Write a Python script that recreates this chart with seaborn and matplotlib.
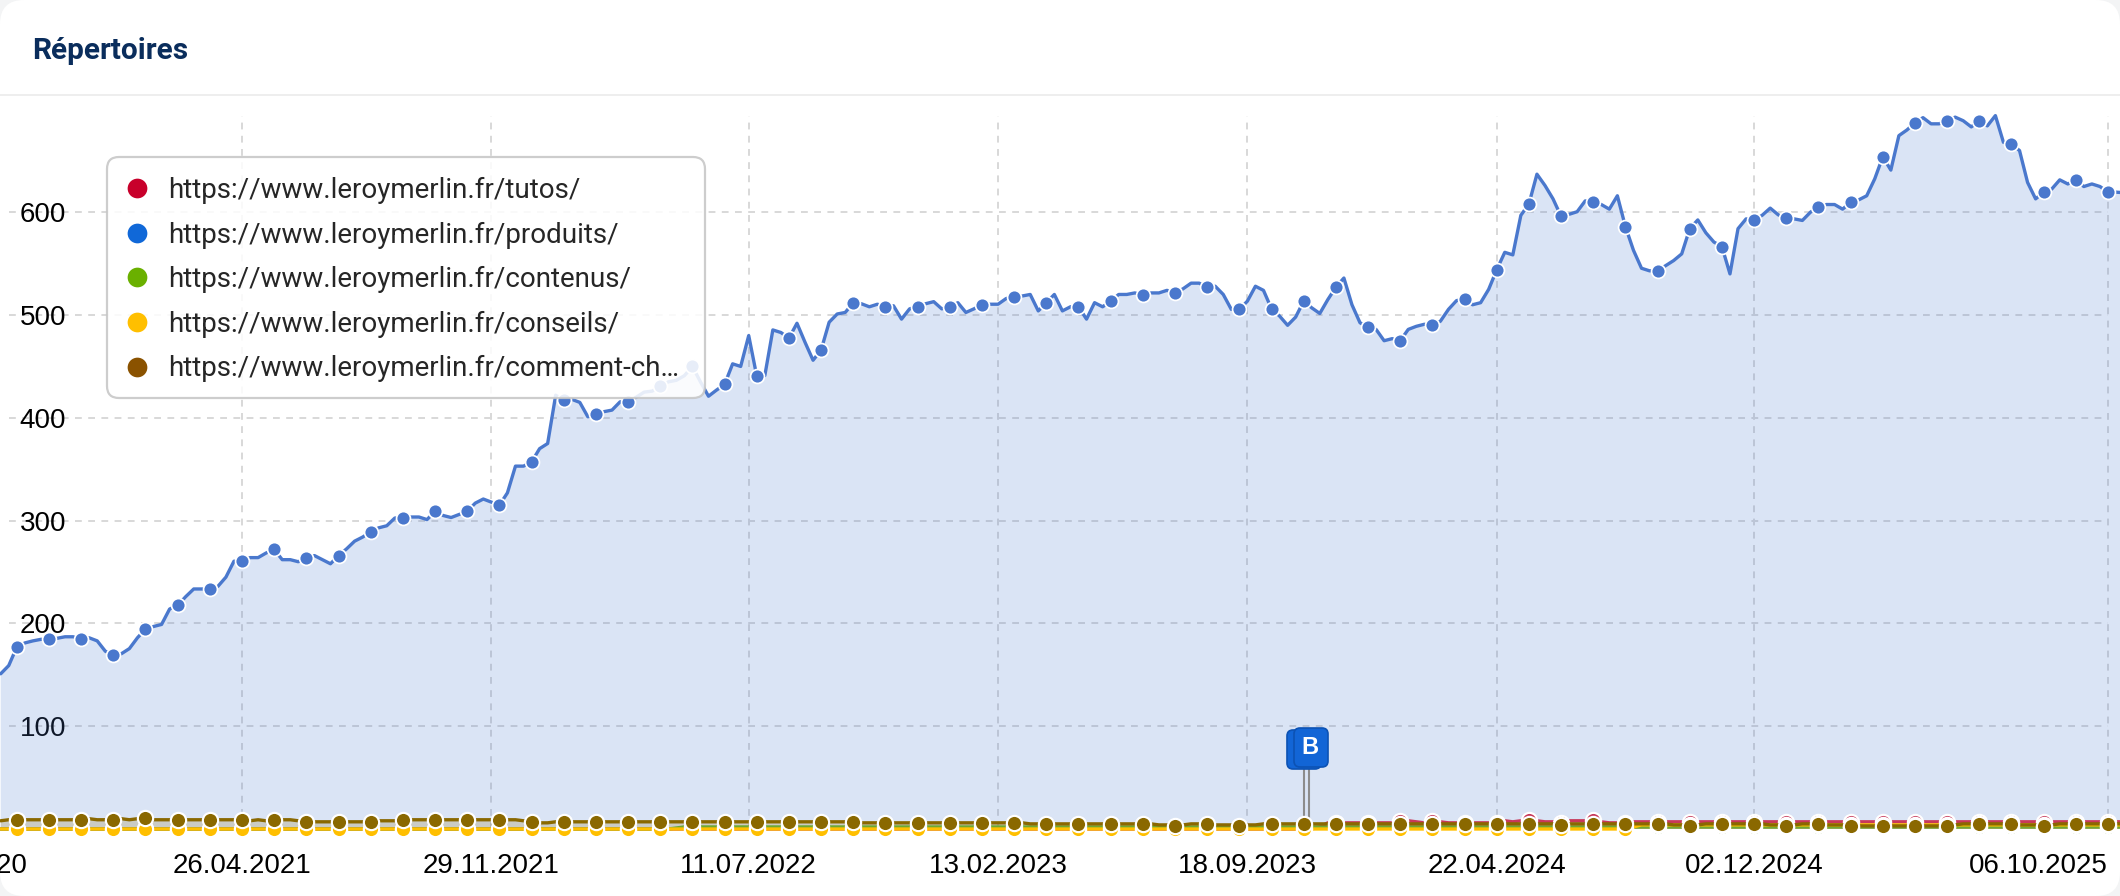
import pandas as pd
import matplotlib
matplotlib.use('Agg')
import matplotlib.pyplot as plt
from matplotlib.lines import Line2D
from matplotlib.patches import FancyBboxPatch, Rectangle
from matplotlib.transforms import IdentityTransform
import seaborn as sns

title = 'Répertoires'
series_names = ['https://www.leroymerlin.fr/tutos/', 'https://www.leroymerlin.fr/produits/',
                'https://www.leroymerlin.fr/contenus/', 'https://www.leroymerlin.fr/conseils/',
                'https://www.leroymerlin.fr/comment-ch…']
legend_colors = ['#c8002b', '#1068d8', '#6ab000', '#ffbf00', '#8a5200']
line_colors = ['#c8385a', '#4a78cd', '#6fa832', '#ffbf00', '#8a6800']

tick_dates = ['2021-04-26', '2021-11-29', '2022-07-11', '2023-02-13', '2023-09-18', '2024-04-22', '2024-12-02', '2025-10-06']
tick_labels = ['26.04.2021', '29.11.2021', '11.07.2022', '13.02.2023', '18.09.2023', '22.04.2024', '02.12.2024', '06.10.2025']
first_label = '21.09.2020'
y_ticks = [100, 200, 300, 400, 500, 600]
flag_dates = ['2023-11-06', '2023-11-11']

# weekly values
produits = [151, 159,
    177, 181, 183, 184.5, 184.5, 185.5, 187, 187, 184.5, 186, 183, 173, 169, 170.5, 175.5, 186, 194.5, 197,
    199, 214, 217.5, 226, 233.5, 233.5, 233, 236, 245, 260.5, 260.5, 264, 264, 268.5, 272, 262, 262, 260, 264, 266,
    262, 258, 266, 272.5, 280, 284, 289, 293, 295, 302.5, 303, 303.5, 303.5, 301, 309, 305, 303, 306, 309, 317,
    321, 318, 315, 327, 353, 353, 357, 370, 375, 422, 417, 418, 415, 401, 403.5, 406, 407.5, 415.5, 415.5, 420,
    425, 426, 430.5, 435, 436.5, 441, 450, 435, 421, 427, 432.5, 452.5, 450, 480, 440.5, 441, 485.5, 483, 477.5, 492,
    473.5, 456, 466, 493, 501, 502.5, 512, 511, 508, 510.5, 508, 509, 496, 506, 508, 511, 513, 506, 508, 512,
    502.5, 506, 510, 510.5, 510.5, 516, 518, 518.5, 520, 504, 512, 520, 504, 508, 508, 496, 512, 508, 513.5, 520,
    520, 521.5, 519.5, 521.5, 521.5, 524, 521.5, 525.5, 531, 531, 527, 528, 520, 505.5, 505.5, 513.5, 528, 524, 506, 499,
    490, 498, 513.5, 507, 501.5, 515, 527, 536, 510, 492.5, 488, 486, 475, 477, 475, 486, 489, 491, 490, 494,
    505.5, 514, 515.5, 510, 512, 525, 544, 561, 558.5, 597, 608, 637, 626, 613, 596, 598, 600.5, 611, 610, 607.5,
    603, 616, 586, 563, 545.5, 543, 543, 548, 553, 559.5, 584, 592.5, 580, 571, 566.5, 540, 584, 593.5, 592.5, 597,
    604, 597.5, 594, 593.5, 592, 600, 605.5, 607.5, 607.5, 603, 609.5, 612, 616, 632.5, 654, 641, 674.5, 680, 687, 692,
    686, 686, 689, 692.5, 689, 683, 689, 684, 694, 668, 666, 660, 629, 613, 619.5, 622.5, 631.5, 627.5, 631, 625,
    627.5, 625, 619.5, 619.5, 619]

tutos = [0, 0, 0, 0, 0, 0, 0, 0, 0, 0, 0, 0, 0, 0, 0, 0, 0, 0, 0, 0,
    0, 0, 0, 0, 0, 0, 0, 0, 0, 0, 0, 0, 0, 0, 0, 0, 0, 0, 0, 0,
    0, 0, 0, 0, 0, 0, 0, 0, 0, 0, 0, 0, 0, 0, 0, 0, 0, 0, 0, 0,
    0, 0, 0, 0, 0, 0, 0, 0, 0, 0, 0, 0, 0, 0, 0, 0, 0, 0, 0, 0,
    0, 0, 0, 0, 0, 0, 0, 0, 0, 0, 0, 0, 0, 0, 0, 0, 0, 0, 0, 0,
    0, 0, 0, 0, 0, 0, 0, 0, 0, 0, 0, 0, 0, 0, 0, 0, 0, 0, 0, 0,
    0, 0, 0, 0, 0, 0, 0, 0, 0, 0, 0, 0, 0, 0, 0, 0, 0, 0, 0, 0,
    0, 0, 0, 0, 0, 0, 0, 0, 0, 0, 0, 0, 0, 0, 0, 0, 0, 0, 0, 0,
    0, 0, 0, 0, 2, 6, 6, 6, 6, 6, 6, 6, 6, 6, 8, 8, 7, 6, 8, 7,
    6, 6, 6, 6, 6, 6, 6, 8, 7, 8, 9, 8, 7, 7, 6, 8, 8, 8, 9, 7,
    6, 6, 6, 7, 7, 7, 7, 7, 7, 7, 7, 7, 7, 7, 7, 7, 7, 7, 7, 7,
    7, 7, 7, 7, 7, 7, 7, 7, 7, 7, 7, 7, 7, 7, 7, 7, 7, 7, 7, 7,
    7, 7, 7, 7, 7, 7, 7, 7, 7, 7, 7, 7, 7, 7, 7, 7, 7, 7, 7, 7,
    7, 7, 7, 7, 7]

contenus = [0, 0, 0, 0, 0, 0, 0, 0, 0, 0, 0, 0, 0, 0, 0, 0, 0, 0, 0, 0,
    0, 0, 0, 0, 0, 0, 0, 0, 0, 0, 0, 0, 0, 0, 0, 0, 0, 0, 0, 0,
    0, 0, 0, 0, 0, 0, 0, 0, 0, 0, 0, 0, 0, 0, 0, 0, 0, 0, 0, 0,
    0, 0, 0, 0, 0, 0, 0, 0, 0, 0, 0, 0, 0, 0, 0, 0, 0, 0, 0, 0,
    0, 0, 0, 0, 1, 2, 2, 2, 2, 2, 2, 2, 2, 2, 2, 2, 2, 2, 2, 2,
    2, 2, 2, 2, 2, 2, 2, 2, 2, 2, 2, 2, 2, 2, 2, 2, 2, 2, 2, 2,
    2, 2, 2, 2, 2, 2, 2, 2, 2, 2, 2, 2, 2, 2, 2, 2, 2, 2, 2, 2,
    2, 2, 2, 2, 2, 2, 2, 2, 2, 2, 2, 2, 2, 2, 2, 2, 2, 2, 2, 2,
    2, 2, 2, 2, 2, 2, 2, 2, 2, 2, 2, 2, 2, 2, 2, 2, 2, 2, 2, 2,
    2, 2, 2, 2, 2, 2, 2, 2, 2, 2, 2, 2, 2, 2, 2, 2, 2, 2, 2, 2,
    2, 2, 2, 2, 2, 2, 2, 2, 2, 2, 2, 2, 2, 2, 2, 2, 2, 2, 2, 2,
    2, 2, 2, 2, 2, 2, 2, 2, 2, 2, 2, 2, 2, 2, 2, 2, 2, 2, 2, 2,
    2, 2, 2, 2, 2, 2, 2, 2, 2, 2, 2, 2, 2, 2, 2, 2, 2, 2, 2, 2,
    2, 2, 2, 2, 2]

conseils = [0, 0, 0, 0, 0, 0, 0, 0, 0, 0, 0, 0, 0, 0, 0, 0, 0, 0, 0, 0,
    0, 0, 0, 0, 0, 0, 0, 0, 0, 0, 0, 0, 0, 0, 0, 0, 0, 0, 0, 0,
    0, 0, 0, 0, 0, 0, 0, 0, 0, 0, 0, 0, 0, 0, 0, 0, 0, 0, 0, 0,
    0, 0, 0, 0, 0, 0, 0, 0, 0, 0, 0, 0, 0, 0, 0, 0, 0, 0, 0, 0,
    0, 0, 0, 0, 0, 0, 0, 0, 0, 0, 0, 0, 0, 0, 0, 0, 0, 0, 0, 0,
    0, 0, 0, 0, 0, 0, 0, 0, 0, 0, 0, 0, 0, 0, 0, 0, 0, 0, 0, 0,
    0, 0, 0, 0, 0, 0, 0, 0, 0, 0, 0, 0, 0, 0, 0, 0, 0, 0, 0, 0,
    0, 0, 0, 0, 0, 0, 0, 0, 0, 0, 0, 0, 0, 0, 0, 0, 0, 0, 0, 0,
    0, 0, 0, 0, 0, 0, 0, 0, 0, 0, 0, 0, 0, 0, 0, 0, 0, 0, 0, 0,
    0, 0, 0, 0, 0, 0, 0, 0, 0, 0, 0, 0, 0, 0, 0, 0, 0, 0, 0, 0,
    0, 0, 0, 2, 4, 4, 4, 4, 4, 4, 4, 4, 4, 4, 4, 4, 4, 4, 4, 4,
    4, 4, 4, 4, 4, 4, 4, 4, 4, 4, 4, 4, 4, 4, 4, 4, 4, 4, 4, 4,
    4, 4, 4, 4, 4, 4, 4, 4, 4, 4, 4, 4, 4, 4, 4, 4, 4, 4, 4, 4,
    4, 4, 4, 4, 4]

comment = [8, 9, 9, 9, 9, 9, 9, 9, 9, 9, 9, 10, 9, 9, 9, 10, 9, 10, 11, 9,
    9, 9, 9, 9, 9, 9, 9, 9, 9, 9, 9, 8, 9, 8, 9, 9, 9, 8, 7, 7,
    7, 7, 7, 7, 7, 7, 7, 8, 8, 8, 9, 9, 9, 9, 9, 9, 9, 9, 9, 9,
    9, 9, 9, 9, 9, 8, 7, 6, 6, 7, 7, 7, 7, 7, 7, 7, 7, 7, 7, 7,
    7, 7, 7, 7, 7, 7, 7, 7, 7, 7, 7, 7, 7, 7, 7, 7, 7, 7, 7, 7,
    7, 7, 7, 7, 7, 7, 7, 6, 6, 6, 6, 6, 6, 6, 6, 6, 6, 6, 6, 6,
    6, 6, 6, 6, 6, 6, 6, 6, 5, 5, 5, 5, 5, 5, 5, 5, 5, 5, 5, 5,
    5, 5, 5, 5, 4, 4, 3, 4, 5, 5, 5, 4, 4, 4, 3, 4, 4, 5, 5, 5,
    5, 5, 5, 5, 5, 5, 5, 5, 5, 5, 5, 5, 5, 5, 5, 5, 5, 5, 5, 5,
    5, 5, 5, 5, 5, 5, 5, 5, 5, 5, 5, 5, 5, 5, 4, 5, 5, 5, 5, 5,
    5, 5, 5, 5, 5, 5, 5, 5, 4, 4, 3, 4, 5, 5, 5, 5, 5, 5, 5, 5,
    4, 4, 3, 4, 5, 5, 5, 4, 4, 4, 3, 3, 3, 3, 3, 3, 3, 3, 3, 3,
    3, 3, 3, 4, 5, 5, 5, 5, 5, 5, 5, 4, 4, 4, 3, 4, 5, 5, 5, 5,
    5, 5, 5, 5, 5]

W, H = 2120, 896
dates = pd.date_range('2020-09-28', periods=len(produits), freq='7D')
ticks = pd.to_datetime(tick_dates)

sns.set_theme(style='white')
plt.rcParams['font.family'] = ['Liberation Sans', 'DejaVu Sans']

fig = plt.figure(figsize=(W / 100, H / 100), dpi=100, facecolor='#f3f4f5')
fig.add_artist(FancyBboxPatch((0, 0), W, H, boxstyle='round,pad=0,rounding_size=24',
                              transform=IdentityTransform(), fc='white', ec='none', zorder=-2))
fig.add_artist(Rectangle((0, H - 96), W, 2, transform=IdentityTransform(), fc='#eeeeee', ec='none', zorder=-1))
ax = fig.add_axes([0, (H - 829) / H, 1, (829 - 115.6) / H], facecolor='none')

week_px = 1866 / 232
t0 = ticks[0] - pd.Timedelta(days=7 * 242 / week_px)
t1 = t0 + pd.Timedelta(days=7 * W / week_px)

rows = [(tutos, 0, 11.0, 1.55), (produits, 1, 10.0, 1.25), (contenus, 2, 11.0, 1.55), (conseils, 3, 11.0, 1.55), (comment, 4, 11.0, 1.55)]
for values, c, size, edge in rows:
    ax.fill_between(dates, values, 0, color=line_colors[c], alpha=0.2, lw=0, zorder=1)
    sns.lineplot(x=dates, y=values, color=line_colors[c], lw=2.4, marker='o', markersize=size,
                 markeredgecolor='white', markeredgewidth=edge, markevery=(2, 4),
                 clip_on=False, errorbar=None, legend=False, zorder=3 + c, ax=ax)

ax.set_xlim(t0, t1)
ax.set_ylim(0, 694)
ax.set_xticks(ticks)
ax.set_xticklabels(tick_labels)
ax.set_yticks(y_ticks)
ax.set_xlabel('')
ax.set_ylabel('')
ax.set_axisbelow(True)
ax.grid(axis='x', color='#d9d9d9', lw=1.44, ls=(0, (3.4, 3.2)), zorder=0)
ax.hlines(y_ticks, dates[1], ticks[-1], color='#d9d9d9', lw=1.44, ls=(0, (3.4, 3.2)), zorder=0)
ax.tick_params(axis='x', length=0, pad=17.5, labelsize=20, labelcolor='black')
ax.tick_params(axis='y', length=0, pad=-47.5, labelsize=20, labelcolor='black')
ax.get_xticklabels()[-1].set_ha('right')
sns.despine(ax=ax, left=True, bottom=True)
ax.annotate(first_label, xy=(0, 0), xycoords='axes fraction', xytext=(27.5, -37), textcoords='offset pixels',
            ha='right', va='center', fontsize=20, color='black', annotation_clip=False)

# event flags
for d, x0, y0 in zip(pd.to_datetime(flag_dates), [1287, 1294], [127, 129]):
    ax.vlines(d, 8, 58, color='#8c8c8c', lw=1.5, zorder=2)
    fig.add_artist(FancyBboxPatch((x0 + 3, y0 + 3), 28, 33, boxstyle='round,pad=3,rounding_size=6',
                                  transform=IdentityTransform(), fc='#1265d6', ec='#0c52b4', lw=1.2, zorder=1))
fig.text(1310 / W, (H - 747) / H, 'B', color='white', fontsize=17, fontweight='bold', ha='center', va='center', zorder=2)

# legend box sits over the lines
fig.add_artist(FancyBboxPatch((115, H - 390), 582, 225, boxstyle='round,pad=8,rounding_size=12',
                              transform=IdentityTransform(), fc='white', ec='#c6c6c6', lw=1.6, alpha=0.87, zorder=3))
handles = [Line2D([], [], ls='', marker='o', ms=14.2, mec='none', color=c) for c in legend_colors]
fig.legend(handles, series_names, loc='upper left', bbox_to_anchor=(123 / W, (H - 177) / H), frameon=False,
           prop={'family': 'Roboto', 'size': 20}, labelspacing=0.63, handlelength=1.0, handletextpad=0.62,
           borderpad=0, borderaxespad=0).set_zorder(4)

fig.text(32 / W, (H - 51) / H, title, color='#0a2d5c', fontsize=21.4, fontweight='bold', family='Roboto', va='center')

fig.savefig('out.png', dpi=100, facecolor=fig.get_facecolor())
